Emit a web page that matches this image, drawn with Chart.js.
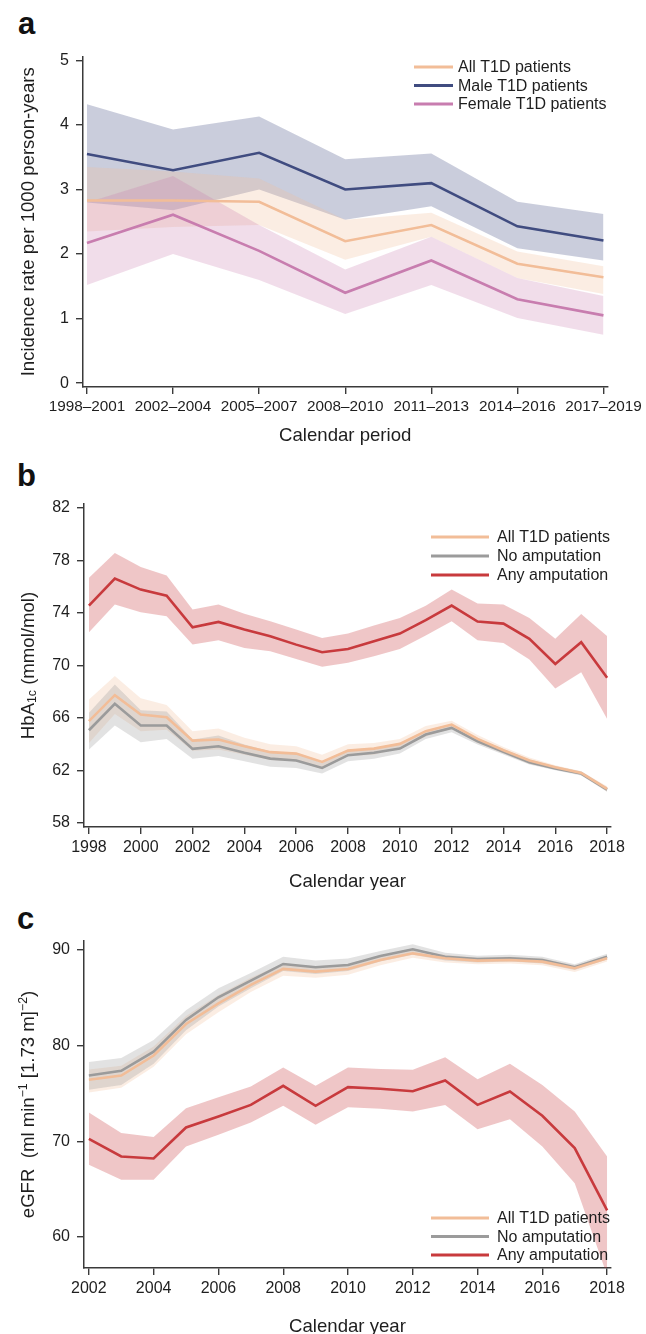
<!DOCTYPE html>
<html><head><meta charset="utf-8">
<script src="https://cdn.jsdelivr.net/npm/chart.js@4"></script>
<style>
html,body{margin:0;padding:0;background:#fff;}
#wrap{position:relative;width:646px;height:1334px;background:#fff;overflow:hidden;font-family:"Liberation Sans",Arial,sans-serif;}
.panel{position:absolute;left:0;width:646px;}
.lbl{position:absolute;font-weight:bold;font-size:31px;color:#111;line-height:1;}
</style></head>
<body><div id="wrap">
<div class="lbl" style="left:18px;top:8px">a</div>
<div class="lbl" style="left:17px;top:460px">b</div>
<div class="lbl" style="left:17px;top:903px">c</div>
<div class="panel" style="top:40px;height:410px"><canvas id="ca" width="646" height="410"></canvas></div>
<div class="panel" style="top:450px;height:440px"><canvas id="cb" width="646" height="440"></canvas></div>
<div class="panel" style="top:890px;height:444px"><canvas id="cc" width="646" height="444"></canvas></div>
</div>
<script>
// ---------- Panel a data ----------
const periods = ['1998–2001','2002–2004','2005–2007','2008–2010','2011–2013','2014–2016','2017–2019'];
const aAll      = [2.83,2.83,2.81,2.20,2.45,1.85,1.64];
const aAllHi    = [3.35,3.28,3.17,2.53,2.64,2.04,1.81];
const aAllLo    = [2.35,2.42,2.45,1.91,2.27,1.63,1.38];
const aMale     = [3.55,3.30,3.57,3.00,3.10,2.43,2.21];
const aMaleHi   = [4.32,3.93,4.13,3.47,3.56,2.81,2.62];
const aMaleLo   = [2.80,2.68,3.00,2.53,2.74,2.09,1.90];
const aFemale   = [2.17,2.61,2.05,1.40,1.90,1.30,1.05];
const aFemaleHi = [2.80,3.21,2.45,1.76,2.27,1.63,1.35];
const aFemaleLo = [1.52,2.00,1.60,1.07,1.52,1.01,0.75];
const aYTicks = [0,1,2,3,4,5];

// ---------- Panel b data ----------
const yearsB = [1998,1999,2000,2001,2002,2003,2004,2005,2006,2007,2008,2009,2010,2011,2012,2013,2014,2015,2016,2017,2018];
const bAll    = [65.76,67.74,66.26,66.06,64.28,64.36,63.85,63.40,63.29,62.66,63.52,63.67,64.03,65.00,65.50,64.41,63.55,62.76,62.25,61.82,60.60];
const bAllHi  = [67.4,69.2,67.5,67.0,65.0,65.2,64.5,64.0,63.85,63.2,64.0,64.1,64.4,65.4,65.8,64.7,63.8,63.0,62.4,61.95,60.8];
const bAllLo  = [64.1,66.3,65.0,65.1,63.5,63.6,63.2,62.8,62.7,62.1,63.1,63.2,63.7,64.6,65.2,64.1,63.3,62.5,62.1,61.7,60.4];
const bNo     = [65.07,67.08,65.43,65.43,63.65,63.85,63.35,62.91,62.76,62.20,63.17,63.35,63.67,64.74,65.25,64.23,63.42,62.63,62.15,61.77,60.55];
const bNoHi   = [66.4,68.55,66.6,66.5,64.36,64.67,63.98,63.47,63.29,62.58,63.47,63.65,63.98,65.04,65.5,64.46,63.65,62.84,62.33,61.95,60.73];
const bNoLo   = [63.6,65.43,64.16,64.4,62.9,63.1,62.7,62.28,62.2,61.77,62.7,62.9,63.29,64.41,64.92,63.98,63.22,62.46,62.03,61.62,60.38];
const bAny    = [74.56,76.62,75.78,75.32,72.91,73.32,72.74,72.23,71.59,71.01,71.26,71.85,72.43,73.45,74.56,73.35,73.19,72.03,70.12,71.77,69.06];
const bAnyHi  = [76.67,78.57,77.51,76.85,74.26,74.64,73.95,73.37,72.74,72.10,72.43,73.04,73.62,74.56,75.78,74.72,74.64,73.62,72.03,73.93,72.23];
const bAnyLo  = [72.53,74.64,74.06,73.75,71.59,71.92,71.34,71.09,70.50,69.90,70.20,70.70,71.26,72.28,73.37,71.92,71.72,70.45,68.24,69.49,65.93];
const bYTicks = [58,62,66,70,74,78,82];
const bXTicks = [1998,2000,2002,2004,2006,2008,2010,2012,2014,2016,2018];

// ---------- Panel c data ----------
const yearsC = [2002,2003,2004,2005,2006,2007,2008,2009,2010,2011,2012,2013,2014,2015,2016,2017,2018];
const cAll    = [76.43,76.88,78.97,82.27,84.43,86.35,88.02,87.74,88.02,88.96,89.65,89.13,88.89,88.96,88.78,88.09,89.13];
const cAllHi  = [77.5,77.9,79.9,83.1,85.3,87.1,88.6,88.3,88.5,89.4,90.0,89.5,89.2,89.3,89.1,88.4,89.4];
const cAllLo  = [75.1,75.6,77.8,81.2,83.5,85.6,87.3,87.1,87.4,88.4,89.2,88.7,88.5,88.6,88.4,87.7,88.8];
const cNo     = [76.88,77.37,79.38,82.69,85.06,86.80,88.54,88.19,88.43,89.37,90.07,89.30,89.06,89.13,88.96,88.19,89.30];
const cNoHi   = [78.3,78.7,80.6,83.7,86.0,87.6,89.3,88.9,89.1,89.9,90.6,89.7,89.4,89.5,89.3,88.5,89.6];
const cNoLo   = [75.4,75.9,78.1,81.6,84.1,86.0,87.8,87.5,87.8,88.8,89.5,88.9,88.7,88.8,88.6,87.9,89.0];
const cAny    = [70.26,68.42,68.21,71.45,72.60,73.81,75.80,73.71,75.66,75.49,75.24,76.36,73.81,75.21,72.67,69.29,62.78];
const cAnyHi  = [73.01,70.86,70.44,73.47,74.62,75.73,77.71,75.80,77.71,77.57,77.47,78.79,76.50,78.10,75.90,73.12,68.42];
const cAnyLo  = [67.55,65.98,65.98,69.46,70.68,71.97,73.71,71.73,73.57,73.40,73.12,73.81,71.27,72.32,69.46,65.63,56.00];
const cYTicks = [60,70,80,90];
const cXTicks = [2002,2004,2006,2008,2010,2012,2014,2016,2018];

// ---------- styles ----------
const FONT = '"Liberation Sans", Arial, sans-serif';
const TXT = '#1e1e1e';
const AX = '#3a3a3a';
const C = {
  all:'#f2bd98', allBand:'rgba(242,189,152,0.27)',
  male:'#404c80', maleBand:'rgba(64,76,128,0.28)',
  fem:'#c87daf', femBand:'rgba(200,125,175,0.26)',
  no:'#9b9b9b', noBand:'rgba(150,150,150,0.28)',
  any:'#c83a3d', anyBand:'rgba(200,58,61,0.29)'
};

function pts(xs, ys){ return ys.map((v,i)=>({x:xs[i], y:v})); }
function lineDs(label, xs, ys, color){
  return {label, data:pts(xs,ys), borderColor:color, backgroundColor:color, borderWidth:2.6,
          pointRadius:0, fill:false, tension:0, order:0, borderJoinStyle:'miter'};
}
function bandPair(xs, hi, lo, color){
  return [
    {label:'hi', data:pts(xs,hi), borderWidth:0, borderColor:'rgba(0,0,0,0)', backgroundColor:color, pointRadius:0, fill:'+1', tension:0, order:1},
    {label:'lo', data:pts(xs,lo), borderWidth:0, borderColor:'rgba(0,0,0,0)', backgroundColor:'rgba(0,0,0,0)', pointRadius:0, fill:false, tension:0, order:1}
  ];
}

function drawRich(ctx, segs, cx, cy, rot, size){
  ctx.save();
  ctx.translate(cx, cy); ctx.rotate(rot);
  let total = 0;
  segs.forEach(s=>{ const sz = s.s ? size*0.66 : size; ctx.font = sz+'px '+FONT; s.w = ctx.measureText(s.t).width; total += s.w; });
  let x = -total/2;
  ctx.textBaseline = 'alphabetic'; ctx.textAlign = 'left'; ctx.fillStyle = TXT;
  const base = size*0.36;
  segs.forEach(s=>{
    const sz = s.s ? size*0.66 : size; ctx.font = sz+'px '+FONT;
    let dy = 0;
    if (s.s==='sup') dy = -size*0.38;
    if (s.s==='sub') dy = size*0.12;
    ctx.fillText(s.t, x, base+dy); x += s.w;
  });
  ctx.restore();
}

function annot(opts){
  return {
    id:'annot',
    afterDraw(chart){
      const ctx = chart.ctx, ca = chart.chartArea;
      drawRich(ctx, [{t:opts.xTitle}], (ca.left+ca.right)/2, opts.xTitleY, 0, 18.6);
      drawRich(ctx, opts.yTitle, opts.yTitleX, (ca.top+ca.bottom)/2, -Math.PI/2, 18.6);
      const L = opts.legend;
      ctx.save();
      L.items.forEach((it,i)=>{
        const y = L.y + i*L.dy;
        ctx.strokeStyle = it.color; ctx.lineWidth = 3.2; ctx.lineCap = 'butt';
        ctx.beginPath(); ctx.moveTo(L.x1, y); ctx.lineTo(L.x2, y); ctx.stroke();
        ctx.fillStyle = TXT; ctx.font = '16px '+FONT; ctx.textBaseline = 'middle'; ctx.textAlign = 'left';
        ctx.fillText(it.label, L.tx, y+1);
      });
      ctx.restore();
    }
  };
}

function fixedTicks(list){ return function(axis){ axis.ticks = list.map(v=>({value:v})); }; }

function makeChart(id, datasets, p){
  const ctx = document.getElementById(id).getContext('2d');
  return new Chart(ctx, {
    type:'line',
    data:{datasets},
    options:{
      responsive:false, animation:false, devicePixelRatio:1,
      layout:{padding:{top:p.padTop, right:35, left:0, bottom:0}},
      plugins:{legend:{display:false}, tooltip:{enabled:false}},
      elements:{line:{borderCapStyle:'butt'}},
      scales:{
        x:{type:'linear', min:p.xMin, max:p.xMax,
           afterBuildTicks:fixedTicks(p.xTicks),
           afterFit(axis){ axis.height = p.xAxisH; },
           ticks:{autoSkip:false, maxRotation:0, padding:4, color:TXT, font:{family:FONT, size:p.xFs},
                  callback:p.xLabel},
           grid:{display:true, drawOnChartArea:false, drawTicks:true, tickLength:7, color:AX, lineWidth:1.4},
           border:{display:true, color:AX, width:1.5}},
        y:{type:'linear', min:p.yMin, max:p.yMax,
           afterBuildTicks:fixedTicks(p.yTicks),
           afterFit(axis){ axis.width = p.yAxisW; },
           ticks:{padding:7, color:TXT, font:{family:FONT, size:16}, callback:(v)=>String(v)},
           grid:{display:true, drawOnChartArea:false, drawTicks:true, tickLength:7, color:AX, lineWidth:1.4},
           border:{display:true, color:AX, width:1.5}}
      }
    },
    plugins:[annot(p.annot)]
  });
}

// ---------- Panel a ----------
const idxA = periods.map((_,i)=>i);
makeChart('ca', [
  lineDs('All T1D patients', idxA, aAll, C.all),
  lineDs('Male T1D patients', idxA, aMale, C.male),
  lineDs('Female T1D patients', idxA, aFemale, C.fem),
  ...bandPair(idxA, aFemaleHi, aFemaleLo, C.femBand),
  ...bandPair(idxA, aAllHi, aAllLo, C.allBand),
  ...bandPair(idxA, aMaleHi, aMaleLo, C.maleBand)
], {
  padTop:13, xAxisH:63, yAxisW:83, xFs:15.3,
  xMin:-0.046, xMax:6.046, xTicks:idxA, xLabel:(v)=>periods[v],
  yMin:-0.06, yMax:5.06, yTicks:aYTicks,
  annot:{xTitle:'Calendar period', xTitleY:394, yTitleX:27,
    yTitle:[{t:'Incidence rate per 1000 person-years'}],
    legend:{x1:414, x2:453, tx:458, y:27, dy:18.5, items:[
      {label:'All T1D patients', color:C.all},{label:'Male T1D patients', color:C.male},{label:'Female T1D patients', color:C.fem}]}}
});

// ---------- Panel b ----------
makeChart('cb', [
  lineDs('All T1D patients', yearsB, bAll, C.all),
  lineDs('No amputation', yearsB, bNo, C.no),
  lineDs('Any amputation', yearsB, bAny, C.any),
  ...bandPair(yearsB, bNoHi, bNoLo, C.noBand),
  ...bandPair(yearsB, bAllHi, bAllLo, C.allBand),
  ...bandPair(yearsB, bAnyHi, bAnyLo, C.anyBand)
], {
  padTop:54, xAxisH:63, yAxisW:84, xFs:16,
  xMin:1997.81, xMax:2018.15, xTicks:bXTicks, xLabel:(v)=>String(v),
  yMin:57.7, yMax:82.3, yTicks:bYTicks,
  annot:{xTitle:'Calendar year', xTitleY:430, yTitleX:27,
    yTitle:[{t:'HbA'},{t:'1c',s:'sub'},{t:' (mmol/mol)'}],
    legend:{x1:431, x2:489, tx:497, y:87, dy:19, items:[
      {label:'All T1D patients', color:C.all},{label:'No amputation', color:C.no},{label:'Any amputation', color:C.any}]}}
});

// ---------- Panel c ----------
makeChart('cc', [
  lineDs('All T1D patients', yearsC, cAll, C.all),
  lineDs('No amputation', yearsC, cNo, C.no),
  lineDs('Any amputation', yearsC, cAny, C.any),
  ...bandPair(yearsC, cNoHi, cNoLo, C.noBand),
  ...bandPair(yearsC, cAllHi, cAllLo, C.allBand),
  ...bandPair(yearsC, cAnyHi, cAnyLo, C.anyBand)
], {
  padTop:51, xAxisH:66, yAxisW:84, xFs:16,
  xMin:2001.85, xMax:2018.12, xTicks:cXTicks, xLabel:(v)=>String(v),
  yMin:56.76, yMax:90.94, yTicks:cYTicks,
  annot:{xTitle:'Calendar year', xTitleY:435, yTitleX:27,
    yTitle:[{t:'eGFR  (ml min'},{t:'−1',s:'sup'},{t:' [1.73 m]'},{t:'−2',s:'sup'},{t:')'}],
    legend:{x1:431, x2:489, tx:497, y:328, dy:18.5, items:[
      {label:'All T1D patients', color:C.all},{label:'No amputation', color:C.no},{label:'Any amputation', color:C.any}]}}
});
</script>
</body></html>
